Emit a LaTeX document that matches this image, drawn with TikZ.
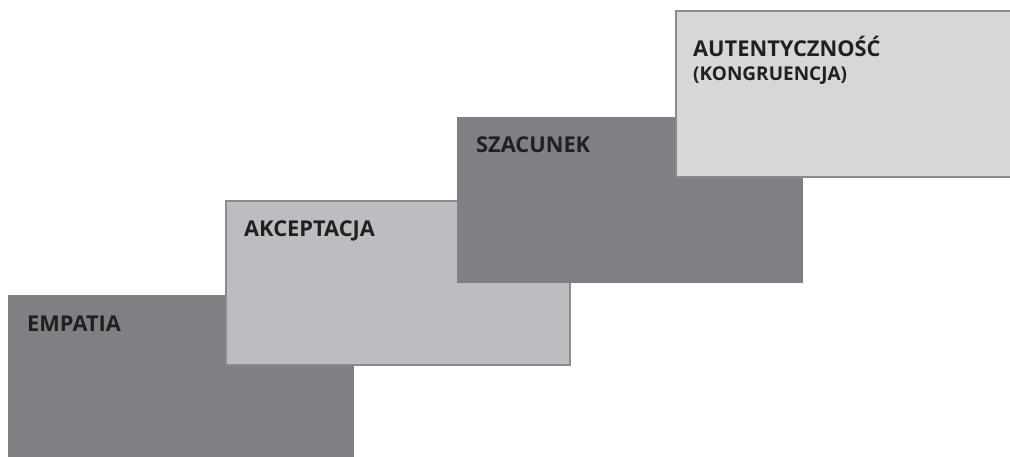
\documentclass[tikz,border=0pt]{standalone}
\usepackage{fontspec}
\setmainfont{Open Sans}
\definecolor{darkbox}{HTML}{7F8084}
\definecolor{midbox}{HTML}{BCBDC1}
\definecolor{lightbox}{HTML}{D6D7D9}
\definecolor{edge}{HTML}{8A8B8E}
\definecolor{ink}{HTML}{231F20}
\begin{document}
\begin{tikzpicture}[x=1pt,y=-1pt,
  stepbox/.style={inner sep=0pt, outer sep=0pt, anchor=north west},
  darkstep/.style={stepbox, fill=darkbox, draw=none},
  lightstep/.style={stepbox, draw=edge, line width=1.5pt},
  lab/.style={anchor=base west, inner sep=0pt, text=ink, font=\bfseries\fontsize{21.8}{24}\selectfont},
  sublab/.style={anchor=base west, inner sep=0pt, text=ink, font=\bfseries\fontsize{19}{21}\selectfont}]
\useasboundingbox (0,0) rectangle (1010,457);
\clip (0,0) rectangle (1010,457);
\node[darkstep, minimum width=346pt, minimum height=170pt] (empatia) at (8,295) {};
\node[lightstep, fill=midbox, minimum width=344pt, minimum height=164pt] (akceptacja) at (226,201) {};
\node[darkstep, minimum width=346pt, minimum height=166pt] (szacunek) at (457,117) {};
\node[lightstep, fill=lightbox, minimum width=345pt, minimum height=166pt] (autentycznosc) at (676,11) {};
\node[lab] (tE) at (27,331) {EMPATIA};
\node[lab] (tA) at (244,237) {AKCEPTACJA};
\node[lab] (tS) at (476,153) {SZACUNEK};
\node[lab] (tU) at (693,57) {AUTENTYCZNOŚĆ};
\node[sublab] (tK) at (693,81) {(KONGRUENCJA)};
\end{tikzpicture}
\end{document}
